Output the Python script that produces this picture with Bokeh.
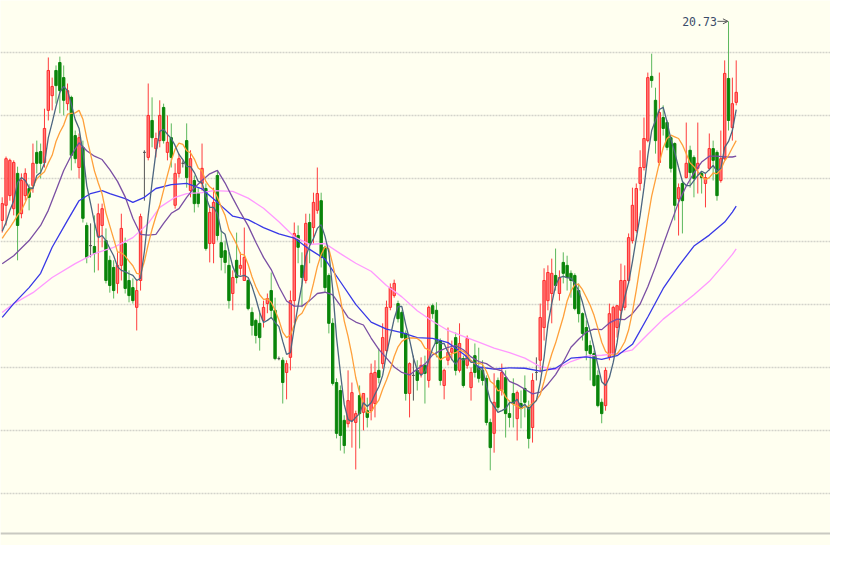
from bokeh.plotting import figure
from bokeh.models import ColumnDataSource, Range1d, FixedTicker, Span, Arrow, OpenHead, Label, Grid
from bokeh.embed import file_html
from bokeh.resources import INLINE

# ---------------- data (daily candles) ----------------
open_ = [15.99, 16.35, 16.58, 16.27, 17.11, 16.15, 16.58, 16.75, 16.82, 17.61,
         17.63, 17.37, 18.61, 18.96, 19.56, 19.75, 19.39, 18.77, 18.92, 18.01,
         17.25, 17.73, 15.87, 15.39, 15.37, 15.61, 15.87, 15.51, 15.04, 14.87,
         14.49, 14.92, 15.44, 14.56, 14.39, 13.92, 14.56, 17.61, 17.49, 18.37,
         17.70, 17.89, 18.68, 17.61, 17.96, 16.35, 17.11, 17.35, 17.89, 16.70,
         16.94, 16.63, 16.87, 16.75, 15.44, 15.44, 17.06, 15.46, 15.27, 14.92,
         14.25, 15.04, 14.85, 14.56, 14.56, 13.80, 13.61, 13.54, 13.61, 14.01,
         14.32, 13.85, 12.70, 12.66, 12.37, 12.73, 14.08, 15.63, 14.92, 14.56,
         15.94, 15.82, 16.23, 16.46, 15.35, 14.68, 13.54, 12.13, 11.94, 11.23,
         11.15, 11.23, 11.18, 11.82, 11.42, 11.46, 11.46, 11.63, 12.42, 12.58,
         12.89, 13.92, 14.20, 14.01, 13.80, 13.30, 11.87, 12.30, 12.42, 12.35,
         12.54, 12.18, 13.96, 13.85, 13.13, 12.06, 12.66, 12.85, 13.20, 12.42,
         12.70, 12.54, 12.01, 12.77, 12.49, 12.42, 12.23, 11.18, 10.92, 12.18,
         11.94, 12.25, 11.39, 11.87, 11.27, 11.63, 11.99, 11.54, 11.06, 12.37,
         12.66, 13.44, 14.08, 14.25, 14.68, 14.25, 14.99, 14.92, 14.73, 14.68,
         14.32, 13.77, 13.44, 13.01, 12.82, 12.30, 11.66, 11.58, 12.73, 12.82,
         13.44, 13.85, 13.92, 14.56, 15.51, 15.75, 16.87, 17.25, 17.89, 19.42,
         18.85, 17.37, 18.44, 18.32, 17.96, 17.82, 16.51, 16.87, 17.01, 17.66,
         17.49, 17.23, 17.11, 16.87, 17.23, 17.70, 17.61, 16.94, 17.46, 19.37,
         18.20, 18.80]
high = [16.54, 17.51, 17.46, 17.42, 17.27, 17.11, 17.23, 16.85, 17.82, 17.89,
        17.82, 18.65, 19.87, 19.39, 19.68, 19.89, 19.68, 19.25, 18.96, 18.13,
        18.06, 17.89, 15.94, 15.92, 16.11, 16.39, 16.39, 15.80, 15.15, 15.04,
        15.23, 16.15, 15.58, 14.80, 14.61, 14.56, 16.15, 17.66, 19.25, 18.92,
        18.08, 18.85, 18.77, 18.49, 18.30, 17.35, 17.58, 17.42, 18.30, 17.66,
        17.06, 16.77, 17.82, 16.87, 16.35, 16.77, 17.18, 15.75, 15.51, 15.23,
        14.80, 15.70, 15.23, 15.82, 14.61, 13.92, 13.65, 13.85, 14.08, 14.25,
        14.75, 14.15, 12.75, 12.73, 12.66, 14.32, 15.94, 15.87, 15.23, 16.15,
        16.15, 16.65, 17.25, 16.65, 15.39, 14.73, 13.66, 12.23, 12.06, 11.35,
        12.42, 12.13, 11.46, 12.06, 11.87, 11.77, 12.58, 12.66, 12.94, 13.54,
        14.08, 14.49, 14.58, 14.08, 13.85, 13.37, 12.61, 12.77, 12.66, 12.73,
        12.77, 13.96, 14.01, 14.04, 13.18, 12.46, 13.44, 13.13, 13.32, 13.54,
        12.77, 13.25, 12.49, 13.06, 12.96, 12.66, 12.30, 11.27, 12.35, 12.25,
        12.58, 12.42, 11.70, 12.23, 11.94, 11.94, 12.30, 11.70, 12.35, 12.73,
        14.01, 14.85, 14.92, 15.08, 15.32, 14.80, 15.23, 15.15, 14.80, 14.73,
        14.49, 13.80, 13.61, 13.13, 12.89, 12.42, 11.75, 12.49, 14.01, 13.96,
        13.96, 14.96, 14.92, 15.68, 16.77, 16.87, 17.66, 18.44, 19.51, 19.96,
        19.15, 19.51, 18.73, 18.37, 18.01, 17.85, 16.87, 16.94, 18.32, 17.77,
        17.54, 18.32, 17.16, 17.11, 18.06, 17.89, 17.66, 18.13, 19.80, 20.73,
        19.39, 19.80]
low = [15.70, 15.87, 16.46, 16.11, 15.04, 16.04, 16.46, 16.23, 16.65, 17.11,
       16.99, 17.25, 18.37, 18.61, 18.77, 18.54, 18.49, 18.61, 17.18, 17.35,
       16.99, 15.94, 14.97, 15.11, 14.75, 14.80, 15.35, 14.49, 14.27, 14.13,
       14.25, 14.56, 14.25, 14.04, 14.01, 13.37, 14.32, 16.46, 17.42, 17.73,
       17.49, 17.73, 17.82, 17.42, 17.25, 16.27, 17.01, 17.25, 16.77, 16.54,
       16.18, 16.30, 16.70, 15.27, 14.99, 14.97, 15.51, 14.80, 14.73, 13.89,
       13.85, 14.49, 14.68, 14.56, 13.85, 13.25, 13.06, 12.89, 13.44, 13.78,
       13.65, 12.66, 12.66, 11.63, 11.73, 12.42, 13.54, 14.97, 13.92, 14.49,
       14.97, 15.44, 16.15, 14.87, 14.27, 13.30, 12.06, 10.80, 10.51, 10.44,
       11.06, 10.58, 10.06, 10.56, 10.99, 11.06, 11.23, 11.30, 12.11, 12.46,
       12.82, 13.85, 14.15, 13.56, 13.18, 11.70, 11.30, 11.70, 11.94, 12.25,
       11.63, 12.01, 13.65, 12.73, 12.06, 11.73, 12.54, 12.66, 12.30, 12.37,
       12.01, 12.46, 11.70, 12.25, 12.13, 12.06, 11.11, 10.04, 10.46, 11.46,
       11.82, 10.82, 11.06, 11.06, 10.75, 11.04, 11.30, 10.56, 10.70, 12.18,
       12.37, 13.13, 13.85, 13.54, 14.32, 14.08, 14.49, 14.32, 14.15, 13.85,
       13.56, 13.13, 12.66, 12.18, 12.03, 11.54, 11.16, 11.46, 12.66, 12.73,
       13.20, 13.61, 13.85, 14.49, 15.44, 15.70, 16.70, 17.18, 17.85, 19.15,
       17.58, 17.30, 18.01, 17.66, 17.13, 15.99, 15.63, 15.68, 16.99, 16.77,
       16.54, 16.63, 16.63, 16.30, 17.18, 16.94, 16.46, 16.89, 17.42, 18.13,
       17.89, 18.73]
close = [16.39, 17.46, 17.42, 17.37, 15.87, 16.94, 17.11, 16.54, 17.35, 17.35,
         17.35, 18.18, 19.56, 19.18, 19.20, 19.08, 18.85, 19.08, 17.54, 17.46,
         17.96, 16.04, 15.11, 15.39, 15.20, 16.15, 16.27, 14.56, 14.44, 14.32,
         14.92, 15.80, 14.37, 14.20, 14.08, 14.32, 16.08, 17.61, 18.49, 17.96,
         17.94, 18.49, 17.89, 17.85, 17.49, 17.11, 17.46, 17.35, 17.01, 17.46,
         16.39, 16.39, 17.23, 15.32, 16.18, 16.42, 15.63, 15.11, 14.99, 14.08,
         14.63, 14.63, 14.92, 15.11, 13.89, 13.49, 13.25, 13.20, 13.92, 14.13,
         13.85, 12.70, 12.70, 12.13, 12.58, 14.08, 15.68, 15.35, 14.63, 15.92,
         15.44, 16.42, 16.63, 15.11, 14.39, 13.54, 12.11, 10.92, 10.87, 10.63,
         11.70, 11.89, 11.39, 11.39, 11.87, 11.30, 12.35, 12.37, 12.25, 13.20,
         13.92, 14.39, 14.49, 13.65, 13.20, 11.87, 12.58, 12.30, 12.18, 12.54,
         12.35, 13.92, 13.77, 13.06, 12.18, 12.42, 12.85, 12.94, 12.42, 13.06,
         12.06, 13.18, 12.37, 12.37, 12.23, 12.18, 11.18, 10.58, 11.66, 11.54,
         12.37, 11.39, 11.30, 11.63, 11.89, 11.51, 11.66, 10.80, 12.18, 12.37,
         13.68, 14.56, 14.75, 14.73, 14.44, 14.63, 14.73, 14.63, 14.56, 13.89,
         13.77, 13.30, 12.89, 12.82, 12.06, 11.58, 11.39, 12.42, 13.77, 13.92,
         13.96, 14.56, 14.56, 15.58, 16.35, 16.75, 17.25, 17.94, 19.39, 19.32,
         17.89, 18.56, 18.18, 17.73, 17.23, 16.35, 16.77, 16.46, 17.35, 17.13,
         16.99, 17.35, 17.01, 17.01, 17.70, 17.42, 16.58, 17.46, 19.49, 18.37,
         18.77, 19.04]

# moving-average lines
ma5 = [15.73, 15.94, 16.23, 16.46, 16.89, 17.01, 16.94, 16.77, 16.75, 17.06,
       17.13, 17.35, 17.96, 18.32, 18.70, 19.04, 19.18, 19.08, 18.75, 18.39,
       18.18, 17.61, 16.82, 16.39, 15.94, 15.58, 15.63, 15.51, 15.32, 15.15,
       14.89, 14.80, 14.77, 14.72, 14.68, 14.56, 14.61, 15.25, 16.11, 16.89,
       17.61, 18.11, 18.16, 18.04, 17.94, 17.77, 17.56, 17.44, 17.27, 17.27,
       17.13, 16.92, 16.89, 16.56, 16.30, 16.30, 16.15, 15.73, 15.66, 15.25,
       14.89, 14.68, 14.66, 14.68, 14.63, 14.42, 14.13, 13.80, 13.56, 13.61,
       13.68, 13.56, 13.46, 13.11, 12.80, 12.84, 13.44, 13.96, 14.46, 15.13,
       15.39, 15.56, 15.80, 15.89, 15.61, 15.23, 14.35, 13.20, 12.37, 11.61,
       11.25, 11.20, 11.30, 11.39, 11.65, 11.56, 11.65, 11.85, 12.03, 12.30,
       12.82, 13.23, 13.65, 13.94, 13.94, 13.51, 13.15, 12.72, 12.42, 12.30,
       12.39, 12.66, 12.94, 13.13, 13.06, 13.06, 12.85, 12.68, 12.56, 12.72,
       12.66, 12.72, 12.61, 12.61, 12.44, 12.46, 12.06, 11.70, 11.56, 11.42,
       11.46, 11.51, 11.65, 11.65, 11.73, 11.54, 11.61, 11.49, 11.61, 11.70,
       12.13, 12.72, 13.51, 14.01, 14.44, 14.63, 14.66, 14.63, 14.61, 14.49,
       14.32, 14.04, 13.68, 13.35, 12.96, 12.54, 12.15, 12.06, 12.25, 12.61,
       13.08, 13.73, 14.16, 14.51, 15.01, 15.56, 16.11, 16.77, 17.54, 18.13,
       18.37, 18.63, 18.68, 18.34, 17.92, 17.61, 17.25, 16.92, 16.82, 16.82,
       16.94, 17.06, 17.16, 17.11, 17.20, 17.30, 17.16, 17.23, 17.73, 17.87,
       18.13, 18.63]
ma10 = [15.56, 15.70, 15.82, 15.96, 16.11, 16.23, 16.42, 16.63, 16.80, 16.98,
        17.07, 17.15, 17.36, 17.54, 17.87, 18.09, 18.26, 18.52, 18.54, 18.55,
        18.61, 18.40, 17.95, 17.57, 17.17, 16.88, 16.62, 16.17, 15.86, 15.55,
        15.24, 15.22, 15.14, 15.02, 14.91, 14.73, 14.71, 15.01, 15.42, 15.78,
        16.09, 16.35, 16.71, 17.07, 17.41, 17.69, 17.83, 17.80, 17.65, 17.60,
        17.45, 17.24, 17.17, 16.92, 16.79, 16.72, 16.54, 16.31, 16.11, 15.77,
        15.60, 15.42, 15.19, 15.17, 14.94, 14.65, 14.41, 14.22, 14.11, 14.12,
        14.04, 13.85, 13.62, 13.33, 13.20, 13.26, 13.50, 13.71, 13.78, 13.96,
        14.12, 14.49, 14.89, 15.18, 15.36, 15.31, 14.95, 14.51, 14.13, 13.60,
        13.23, 12.78, 12.25, 11.88, 11.63, 11.41, 11.43, 11.58, 11.71, 11.97,
        12.19, 12.44, 12.75, 12.98, 13.11, 13.17, 13.19, 13.19, 13.18, 13.11,
        12.95, 12.91, 12.84, 12.78, 12.67, 12.73, 12.75, 12.82, 12.84, 12.90,
        12.87, 12.79, 12.65, 12.58, 12.59, 12.56, 12.40, 12.16, 12.09, 11.93,
        11.96, 11.79, 11.68, 11.61, 11.57, 11.51, 11.55, 11.57, 11.63, 11.71,
        11.84, 12.16, 12.50, 12.81, 13.07, 13.38, 13.69, 14.07, 14.31, 14.46,
        14.47, 14.34, 14.16, 13.97, 13.73, 13.42, 13.09, 12.87, 12.79, 12.79,
        12.81, 12.94, 13.10, 13.38, 13.81, 14.33, 14.91, 15.46, 16.03, 16.57,
        16.96, 17.36, 17.72, 17.94, 18.02, 17.98, 17.94, 17.79, 17.58, 17.36,
        17.27, 17.15, 17.04, 16.96, 17.01, 17.12, 17.10, 17.20, 17.41, 17.54,
        17.72, 17.89]
ma20_idx = [0, 3, 7, 10, 12, 14, 16, 18, 20, 22, 24, 26, 28, 30, 32, 34, 36, 38, 40, 42,
            44, 46, 48, 50, 52, 54, 56, 58, 60, 62, 64, 66, 68, 70, 72, 74, 76, 78, 80, 82,
            84, 86, 88, 90, 92, 94, 96, 98, 100, 102, 104, 106, 108, 110, 112, 114, 116, 118,
            120, 122, 124, 126, 128, 130, 132, 134, 136, 138, 140, 142, 144, 146, 148, 150,
            152, 154, 156, 158, 160, 162, 164, 166, 168, 170, 172, 174, 176, 178, 180, 182,
            184, 186, 188, 190, 191]
ma20_val = [14.96, 15.15, 15.51, 15.87, 16.23, 16.70, 17.18, 17.54, 17.84, 17.65,
            17.52, 17.44, 17.20, 16.92, 16.55, 16.04, 15.66, 15.64, 15.66, 15.92,
            16.16, 16.27, 16.54, 16.77, 16.94, 17.10, 17.18, 16.88, 16.52, 16.18,
            15.86, 15.47, 15.11, 14.82, 14.41, 14.07, 13.95, 13.95, 14.08, 14.25,
            14.28, 14.22, 13.96, 13.68, 13.57, 13.50, 13.19, 12.92, 12.71, 12.50,
            12.37, 12.31, 12.45, 12.57, 12.79, 12.89, 12.97, 13.01, 12.91, 12.74,
            12.63, 12.58, 12.46, 12.41, 12.16, 12.08, 11.97, 11.86, 11.90, 12.09,
            12.32, 12.62, 12.97, 13.16, 13.33, 13.40, 13.39, 13.55, 13.64, 13.63,
            13.77, 14.00, 14.41, 14.89, 15.41, 15.92, 16.42, 16.81, 17.12, 17.38,
            17.52, 17.52, 17.50, 17.50, 17.52]
ma40_idx = [0, 3, 7, 10, 13, 17, 20, 23, 26, 28, 32, 34, 37, 40, 44, 48, 52, 56, 60, 64,
            68, 72, 76, 80, 84, 88, 92, 96, 100, 104, 108, 112, 116, 120, 124, 128, 132,
            136, 140, 144, 148, 152, 156, 160, 164, 168, 172, 176, 180, 184, 188, 190, 191]
ma40_val = [13.68, 14.01, 14.39, 14.73, 15.35, 15.99, 16.46, 16.63, 16.70, 16.63,
            16.51, 16.42, 16.54, 16.75, 16.84, 16.87, 16.74, 16.42, 16.09, 16.01,
            15.82, 15.67, 15.57, 15.30, 15.07, 14.53, 13.99, 13.57, 13.40, 13.32,
            13.20, 13.18, 13.08, 12.81, 12.50, 12.45, 12.48, 12.47, 12.40, 12.47,
            12.71, 12.74, 12.68, 12.77, 13.04, 13.69, 14.37, 14.90, 15.38, 15.64,
            15.95, 16.19, 16.33]
ma60_idx = [0, 3, 8, 13, 19, 24, 29, 34, 38, 41, 45, 48, 52, 55, 60, 64, 68, 72, 76, 80,
            84, 88, 92, 96, 100, 104, 108, 112, 116, 120, 124, 128, 132, 136, 140, 144,
            148, 152, 156, 160, 164, 168, 172, 176, 180, 184, 188, 190, 191]
ma60_val = [13.80, 14.01, 14.27, 14.63, 14.96, 15.20, 15.35, 15.58, 15.92, 16.30,
            16.54, 16.63, 16.65, 16.70, 16.68, 16.52, 16.28, 15.96, 15.60, 15.42,
            15.44, 15.20, 14.97, 14.78, 14.44, 14.17, 13.84, 13.59, 13.37, 13.23,
            13.09, 12.95, 12.84, 12.71, 12.51, 12.44, 12.63, 12.76, 12.78, 12.82,
            12.91, 13.28, 13.64, 13.93, 14.22, 14.54, 14.96, 15.18, 15.31]
grid_levels = [9.5, 11.0, 12.5, 14.0, 15.5, 17.0, 18.5, 20.0]

# ---------------- layout constants ----------------
W, H = 830, 545
BAR_PX = 3.843          # pixels per candle
FIRST_BAR_PX = 1.7      # x of first candle inside the plot
PX_PER_UNIT = 42.0      # pixels per price unit
LEVEL20_PX = 51.5       # y of the 20.0 grid line inside the plot
SEPARATOR_PX = 533      # y of the solid bottom rule inside the plot

x_start = -FIRST_BAR_PX / BAR_PX
x_end = x_start + W / BAR_PX
y_end = 20.0 + LEVEL20_PX / PX_PER_UNIT
y_start = y_end - H / PX_PER_UNIT
separator = y_end - SEPARATOR_PX / PX_PER_UNIT

BG = "#fffff0"
UP_FILL, UP_LINE, UP_WICK = "#ff7b7b", "#ff2a2a", "#ff3d3d"
DN_FILL, DN_LINE, DN_WICK = "#0a850a", "#0a850a", "#5cb85c"
FLAT = "#555555"

p = figure(width=W, height=H, output_backend="svg", toolbar_location=None,
           x_range=Range1d(x_start, x_end), y_range=Range1d(y_start, y_end),
           x_axis_location=None, y_axis_location=None, min_border=0,
           background_fill_color=BG, border_fill_color=BG, outline_line_color=None)
p.grid.visible = False

grid = Grid(dimension=1, ticker=FixedTicker(ticks=grid_levels),
            grid_line_color="#d3d3cb", grid_line_dash="2 1", grid_line_width=1.5)
p.add_layout(grid, "center")
p.add_layout(Span(location=separator, dimension="width", line_color="#c9c9c1", line_width=2))

idx = list(range(len(close)))
fill, line, wick, top, bottom = [], [], [], [], []
for o, c in zip(open_, close):
    top.append(max(o, c))
    bottom.append(min(o, c))
    if c > o:
        fill.append(UP_FILL); line.append(UP_LINE); wick.append(UP_WICK)
    elif c < o:
        fill.append(DN_FILL); line.append(DN_LINE); wick.append(DN_WICK)
    else:
        fill.append(FLAT); line.append(FLAT); wick.append(FLAT)

src = ColumnDataSource(dict(x=idx, high=high, low=low, top=top, bottom=bottom,
                            fill=fill, line=line, wick=wick))
p.segment(x0="x", y0="high", x1="x", y1="low", line_color="wick", line_width=1, source=src)
p.vbar(x="x", top="top", bottom="bottom", width=0.62, fill_color="fill",
       line_color="line", line_width=1, source=src)

p.line(ma60_idx, ma60_val, line_color="#ff99ff", line_width=1.3)
p.line(ma40_idx, ma40_val, line_color="#3838e6", line_width=1.3)
p.line(ma20_idx, ma20_val, line_color="#7a4fa3", line_width=1.3)
p.line(idx, ma10, line_color="#ffa03a", line_width=1.3)
p.line(idx, ma5, line_color="#4d6680", line_width=1.3)

# highest-price marker
imax = max(range(len(high)), key=lambda i: high[i])
hmax = high[imax]
p.add_layout(Arrow(end=OpenHead(size=5, line_color="#5a5a5a", line_width=1),
                   x_start=imax - 2.9, y_start=hmax, x_end=imax - 0.15, y_end=hmax,
                   line_color="#5a5a5a", line_width=1))
p.add_layout(Label(x=imax - 3.05, y=hmax, text=f"{hmax:.2f}", text_align="right",
                   text_baseline="middle", text_font="DejaVu Sans Mono",
                   text_font_size="11.5px", text_color="#3a4c6a"))

open("out.html", "w").write(file_html(p, INLINE))
